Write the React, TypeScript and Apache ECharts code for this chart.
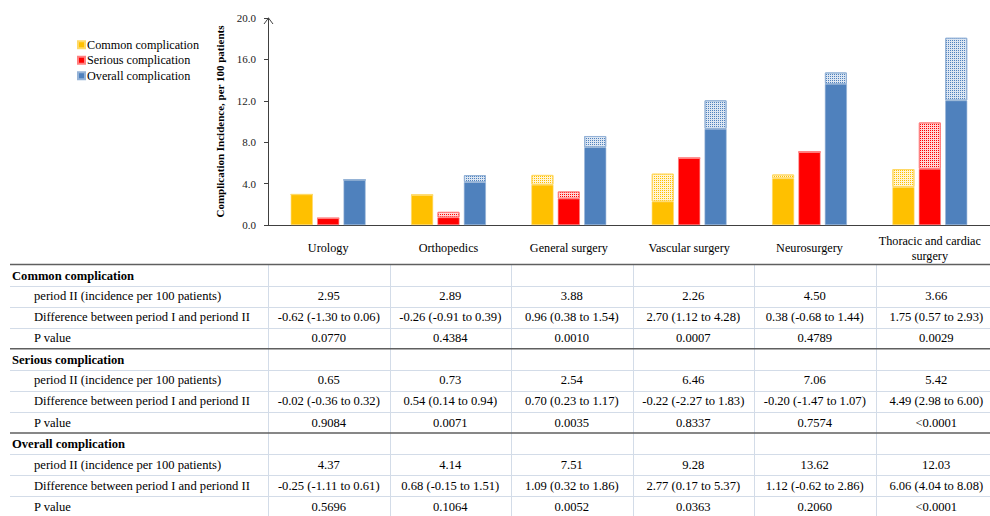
import React, { useEffect, useRef } from "react";
import * as echarts from "echarts";

const categories = ["Urology", "Orthopedics", "General surgery", "Vascular surgery", "Neurosurgery", "Thoracic and cardiac\nsurgery"];

const commonPeriod2 = [2.95, 2.89, 3.88, 2.26, 4.5, 3.66];
const commonDiff = [-0.62, -0.26, 0.96, 2.7, 0.38, 1.75];
const commonCI = [[-1.3, 0.06], [-0.91, 0.39], [0.38, 1.54], [1.12, 4.28], [-0.68, 1.44], [0.57, 2.93]];
const commonP = ["0.0770", "0.4384", "0.0010", "0.0007", "0.4789", "0.0029"];

const seriousPeriod2 = [0.65, 0.73, 2.54, 6.46, 7.06, 5.42];
const seriousDiff = [-0.02, 0.54, 0.7, -0.22, -0.2, 4.49];
const seriousCI = [[-0.36, 0.32], [0.14, 0.94], [0.23, 1.17], [-2.27, 1.83], [-1.47, 1.07], [2.98, 6.0]];
const seriousP = ["0.9084", "0.0071", "0.0035", "0.8337", "0.7574", "<0.0001"];

const overallPeriod2 = [4.37, 4.14, 7.51, 9.28, 13.62, 12.03];
const overallDiff = [-0.25, 0.68, 1.09, 2.77, 1.12, 6.06];
const overallCI = [[-1.11, 0.61], [-0.15, 1.51], [0.32, 1.86], [0.17, 5.37], [-0.62, 2.86], [4.04, 8.08]];
const overallP = ["0.5696", "0.1064", "0.0052", "0.0363", "0.2060", "<0.0001"];

const sectionNames = ["Common complication", "Serious complication", "Overall complication"];
const rowLabels = ["period II (incidence per 100 patients)", "Difference between period I and periond II", "P value"];

const FONT = '"Liberation Serif", "Times New Roman", serif';

const W = 990;
const H = 516;
const gridLeft = 268;
const colW = 121.5;
const tableTop = 264.5;
const rowH = 21.07;
const TFS = 12.6;

const colors = {
  common: { main: "#FFC000", tint: "#FFF4D6", border: "#FFD966" },
  serious: { main: "#FF0000", tint: "#FFD6D6", border: "#FF8080" },
  overall: { main: "#4F81BD", tint: "#DCE6F2", border: "#95B3D7" },
};

function fmtDiff(d: number, ci: number[]) {
  return `${d.toFixed(2)} (${ci[0].toFixed(2)} to ${ci[1].toFixed(2)})`;
}

export default function App() {
  const ref = useRef<HTMLDivElement>(null);
  useEffect(() => {
    if (!ref.current) return;
    const chart = echarts.init(ref.current, null, { renderer: "svg" });

    const groups = [
      { key: "common", name: sectionNames[0], p2: commonPeriod2, diff: commonDiff },
      { key: "serious", name: sectionNames[1], p2: seriousPeriod2, diff: seriousDiff },
      { key: "overall", name: sectionNames[2], p2: overallPeriod2, diff: overallDiff },
    ];

    const series: any[] = [];
    groups.forEach((g) => {
      const c = (colors as any)[g.key];
      series.push({
        type: "bar",
        name: g.name,
        stack: g.key,
        data: g.p2,
        barWidth: 22,
        barGap: "20%",
        itemStyle: { color: c.main, borderColor: c.border, borderWidth: 0.6 },
      });
    });
    groups.forEach((g) => {
      const c = (colors as any)[g.key];
      series.push({
        type: "bar",
        name: g.name + " difference",
        stack: g.key,
        data: g.diff.map((d) => (d > 0 ? d : 0)),
        barWidth: 22,
        barGap: "20%",
        itemStyle: {
          color: c.tint,
          borderColor: c.border,
          borderWidth: 1,
          decal: {
            symbol: "rect",
            symbolSize: 1,
            color: c.main,
            dashArrayX: [1, 1],
            dashArrayY: [1, 1],
            rotation: 0,
          },
        },
      });
    });

    const graphic: any[] = [];
    const lightLine = "#D3DCE8";
    const thickLine = "#5F5F5F";
    const colBounds = [0, 1, 2, 3, 4, 5].map((i) => gridLeft + i * colW);
    const colCenters = [0, 1, 2, 3, 4, 5].map((i) => gridLeft + (i + 0.5) * colW);

    for (let s = 0; s < 3; s++) {
      const start = tableTop + s * 4 * rowH;
      for (let r = 1; r < 4; r++) {
        const y = Math.round(start + r * rowH) + 0.5;
        graphic.push({ type: "line", shape: { x1: 10, y1: y, x2: W, y2: y }, style: { stroke: lightLine, lineWidth: 1 }, silent: true });
      }
    }
    colBounds.forEach((x) => {
      const xx = Math.round(x) + 0.5;
      graphic.push({ type: "line", shape: { x1: xx, y1: tableTop, x2: xx, y2: H }, style: { stroke: lightLine, lineWidth: 1 }, silent: true });
    });
    for (let s = 0; s < 3; s++) {
      const y = tableTop + s * 4 * rowH;
      graphic.push({ type: "line", shape: { x1: 10, y1: y, x2: W, y2: y }, style: { stroke: thickLine, lineWidth: 1.6 }, silent: true });
    }
    const tableData = [
      { p2: commonPeriod2, diff: commonDiff, ci: commonCI, p: commonP },
      { p2: seriousPeriod2, diff: seriousDiff, ci: seriousCI, p: seriousP },
      { p2: overallPeriod2, diff: overallDiff, ci: overallCI, p: overallP },
    ];
    tableData.forEach((t, s) => {
      const start = tableTop + s * 4 * rowH;
      graphic.push({
        type: "text",
        x: 12,
        y: start + rowH * 0.5 + 0.5,
        style: { text: sectionNames[s], font: `bold ${TFS}px ${FONT}`, fill: "#000", verticalAlign: "middle", align: "left" },
        silent: true,
      });
      rowLabels.forEach((lab, r) => {
        graphic.push({
          type: "text",
          x: 34,
          y: start + rowH * (r + 1.5),
          style: { text: lab, font: `${TFS}px ${FONT}`, fill: "#000", verticalAlign: "middle", align: "left" },
          silent: true,
        });
      });
      const rowsText = [
        t.p2.map((v) => v.toFixed(2)),
        t.diff.map((d, i) => fmtDiff(d, t.ci[i])),
        t.p,
      ];
      rowsText.forEach((vals, r) => {
        vals.forEach((txt, i) => {
          graphic.push({
            type: "text",
            x: colCenters[i],
            y: start + rowH * (r + 1.5),
            style: { text: txt, font: `${TFS}px ${FONT}`, fill: "#000", verticalAlign: "middle", align: "center" },
            silent: true,
          });
        });
      });
    });
    graphic.push({
      type: "polyline",
      shape: { points: [[gridLeft - 4, 24], [gridLeft + 0.5, 18], [gridLeft + 5, 24]] },
      style: { stroke: "#404040", lineWidth: 1, fill: "none" },
      silent: true,
    });

    chart.setOption({
      animation: false,
      backgroundColor: "#ffffff",
      textStyle: { fontFamily: FONT },
      legend: {
        data: sectionNames,
        orient: "vertical",
        left: 72,
        top: 32,
        icon: "rect",
        itemWidth: 7,
        itemHeight: 7,
        itemGap: 0,
        selectedMode: false,
        textStyle: { fontFamily: FONT, fontSize: 12.2, color: "#000", lineHeight: 15.5, padding: [0, 0, 0, -3] },
      },
      grid: { left: gridLeft, right: -7, top: 18, bottom: H - 225 },
      xAxis: {
        type: "category",
        data: categories,
        axisTick: { show: false },
        axisLine: { lineStyle: { color: "#404040", width: 1 } },
        axisLabel: {
          fontFamily: FONT,
          fontSize: 12.2,
          color: "#000",
          margin: 23,
          verticalAlign: "middle",
          lineHeight: 15,
          interval: 0,
        },
      },
      yAxis: {
        type: "value",
        min: 0,
        max: 20,
        interval: 4,
        name: "Complication Incidence, per 100 patients",
        nameLocation: "middle",
        nameGap: 38,
        nameTextStyle: { fontFamily: FONT, fontSize: 11, fontWeight: "bold", color: "#000" },
        splitLine: { show: false },
        axisLine: { show: true, lineStyle: { color: "#404040", width: 1 } },
        axisTick: { show: true, length: 4, lineStyle: { color: "#404040" } },
        axisLabel: {
          fontFamily: FONT,
          fontSize: 11,
          color: "#222",
          margin: 12,
          formatter: (v: number) => v.toFixed(1),
        },
      },
      series,
      graphic,
    });
    return () => chart.dispose();
  }, []);
  return <div ref={ref} style={{ position: "fixed", left: 0, top: 0, width: W, height: H }} />;
}
